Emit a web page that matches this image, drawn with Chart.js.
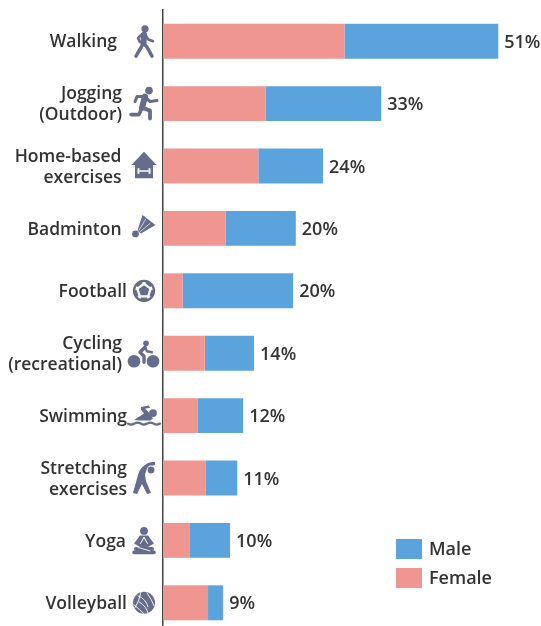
<!DOCTYPE html>
<html><head><meta charset="utf-8">
<style>html,body{margin:0;padding:0;background:#fff;overflow:hidden;height:626px}#w{width:541px;height:626px;position:relative;overflow:hidden}canvas{display:block}</style>
<script src="https://cdn.jsdelivr.net/npm/chart.js@4"></script>
</head><body><div id="w"><canvas id="c" width="541" height="634"></canvas></div>
<script>
const categories = [["Walking"],["Jogging","(Outdoor)"],["Home-based","exercises"],["Badminton"],["Football"],["Cycling","(recreational)"],["Swimming"],["Stretching","exercises"],["Yoga"],["Volleyball"]];
const female = [27.6,15.6,14.5,9.55,3.0,6.35,5.3,6.45,4.0,6.85];
const male = [23.4,17.6,9.85,10.65,16.8,7.5,6.9,4.85,6.2,2.3];
const totals = ["51%","33%","24%","20%","20%","14%","12%","11%","10%","9%"];
const labelRight = [117,122,121.5,121.5,127,122,127,127,126,127];
const iconX = [145,145,144,144,144,144,144,144,144,144];
const TXT="#333333", ICON="#656c8c", MALE="#5ba3dd", FEMALE="#f09690";
const FONT='600 17.5px "Open Sans"', FONT2='600 18px "Open Sans"';

function line(g,pts,w){g.lineWidth=w;g.beginPath();pts.forEach((p,i)=>i?g.lineTo(p[0],p[1]):g.moveTo(p[0],p[1]));g.stroke();}
function circ(g,x,y,r){g.beginPath();g.arc(x,y,r,0,Math.PI*2);g.fill();}
function poly(g,pts){g.beginPath();pts.forEach((p,i)=>i?g.lineTo(p[0],p[1]):g.moveTo(p[0],p[1]));g.closePath();g.fill();}
const icons = [
 g=>{circ(g,0,-12.4,3.6);line(g,[[-1,-6.5],[-1.5,2]],6);line(g,[[-1.5,2],[-9,15]],3.4);line(g,[[-1.5,2],[2,6],[7,15]],3.4);line(g,[[0,-7],[3,-2],[8,0]],2.6);line(g,[[-3,-7],[-7,-3],[-5,1]],2.6);},
 g=>{circ(g,4,-13,3.8);line(g,[[0,-7],[-3,4]],6);line(g,[[0,-7],[5,-2],[12,-3]],3);line(g,[[-1,-7],[-8,-7],[-10,-2]],3);line(g,[[-3,4],[5,7],[5,15]],3.8);line(g,[[-3,4],[-6,11],[-14,11]],3.6);},
 g=>{poly(g,[[0,-14.2],[12.6,-1],[9,-1],[9,12.3],[-9,12.3],[-9,-1],[-12.6,-1]]);g.strokeStyle="#fff";line(g,[[-4,5],[4,5]],1.6);line(g,[[-5.5,3],[-5.5,7]],2);line(g,[[5.5,3],[5.5,7]],2);},
 g=>{circ(g,-8.5,5.5,3.4);poly(g,[[-6.5,2],[-1.5,-13.5],[11.5,-3.5],[-3,5]]);g.strokeStyle="#fff";line(g,[[-5,2],[1.5,-9]],.7);line(g,[[-3.5,3],[6,-5]],.7);},
 g=>{g.lineWidth=2.2;g.beginPath();g.arc(0,0,10,0,Math.PI*2);g.stroke();const st=[];for(let i=0;i<5;i++){const a=-Math.PI/2+i*2*Math.PI/5;st.push([5.6*Math.cos(a),5.6*Math.sin(a)]);}poly(g,st);for(let i=0;i<5;i++){const a=-Math.PI/2+Math.PI/5+i*2*Math.PI/5;const c=Math.cos(a),s=Math.sin(a),t=-s,u=c;poly(g,[[6.8*c-3*t,6.8*s-3*u],[6.8*c+3*t,6.8*s+3*u],[10*c+4.4*t,10*s+4.4*u],[10*c-4.4*t,10*s-4.4*u]]);}},
 g=>{circ(g,-10,8,6.3);circ(g,9,8,6.3);circ(g,2,-10,2.8);line(g,[[1,-6],[-4,-1],[0,3],[0,9]],3.4);line(g,[[1,-6],[3,-2],[8,-1]],2.4);},
 g=>{circ(g,9,-2.5,3.9);poly(g,[[5,-10],[-3,-8.5],[-3,-6],[0,-2],[-10,4.5],[-4,5],[6,5],[9,3],[4,-4],[1,-7],[6,-7.5]]);g.lineWidth=2.3;g.beginPath();g.moveTo(-16,8);for(let k=0;k<5;k++)g.quadraticCurveTo(-13+k*6.4,8+(k%2?-2:2),-9.6+k*6.4,8);g.stroke();},
 g=>{g.beginPath();g.moveTo(11,-16);g.bezierCurveTo(2,-17,-5,-9,-6,-3);g.lineTo(-11,15);g.lineTo(-7,16);g.lineTo(-2,6);g.lineTo(3,16);g.lineTo(7,15);g.lineTo(2,3);g.lineTo(1,-3);g.bezierCurveTo(2,-9,6,-12,11,-13);g.closePath();g.fill();g.fillStyle="#fff";circ(g,7,-8,4.4);g.fillStyle=ICON;circ(g,7,-8,3.4);},
 g=>{circ(g,0,-9.5,3.9);poly(g,[[-4,-5],[4,-5],[10,3],[4,6.5],[-4,6.5],[-10,3]]);g.strokeStyle="#fff";line(g,[[0,-3],[-3.5,3]],1);line(g,[[0,-3],[3.5,3]],1);g.strokeStyle=ICON;line(g,[[-10,12],[10,12]],3.6);line(g,[[-8,8.5],[8,8.5]],4);g.strokeStyle="#fff";line(g,[[-6,7],[6,10.5]],.9);},
 g=>{circ(g,0,0,11);g.strokeStyle="#fff";g.lineWidth=.9;[[[-3,-10.5],[-5,-1],[-9,5]],[[-5,-1],[3,4],[4,10.5]],[[-6,-7],[2,-4],[4,4]],[[3,-10],[8,-3],[10,3]],[[-10,2],[-4,7],[0,11]]].forEach(p=>{g.beginPath();g.moveTo(p[0][0],p[0][1]);g.quadraticCurveTo(p[1][0],p[1][1],p[2][0],p[2][1]);g.stroke();});}
];
const decor = {
 id:'decor',
 afterDraw(chart){
  const g=chart.ctx, ys=chart.scales.y, xs=chart.scales.x;
  g.save();
  g.textBaseline='middle';
  categories.forEach((lines,i)=>{
   const y=ys.getPixelForValue(i);
   g.fillStyle=TXT; g.textAlign='right'; g.font=FONT;
   const lh=21;
   lines.forEach((t,k)=>g.fillText(t,labelRight[i],y+1.3+(k-(lines.length-1)/2)*lh));
   g.textAlign='left'; g.font=FONT2;
   g.fillText(totals[i],xs.getPixelForValue(female[i]+male[i])+6,y+1.5);
   g.save();g.translate(iconX[i],y);g.fillStyle=ICON;g.strokeStyle=ICON;g.lineCap='round';g.lineJoin='round';icons[i](g);g.restore();
  });
  g.font=FONT2;
  [["Male",MALE,539],["Female",FEMALE,568]].forEach(([t,c,y])=>{
   g.fillStyle=c;g.fillRect(396,y,26,20);
   g.fillStyle=TXT;g.textAlign='left';g.fillText(t,429,y+11);
  });
  g.restore();
 }
};
new Chart(document.getElementById('c'),{
 type:'bar',
 data:{labels:categories,datasets:[
  {label:'Female',data:female,backgroundColor:FEMALE,stack:'s'},
  {label:'Male',data:male,backgroundColor:MALE,stack:'s'}]},
 options:{
  indexAxis:'y',responsive:false,animation:false,
  layout:{padding:{left:163,top:10,right:0,bottom:0}},
  datasets:{bar:{barPercentage:.56,categoryPercentage:1}},
  plugins:{legend:{display:false},tooltip:{enabled:false}},
  scales:{
   x:{stacked:true,min:0,max:57.5,display:false},
   y:{stacked:true,grid:{display:false,drawTicks:false},border:{color:'#444',width:1.5},ticks:{display:false}}
  }
 },
 plugins:[decor]
});
</script></body></html>
